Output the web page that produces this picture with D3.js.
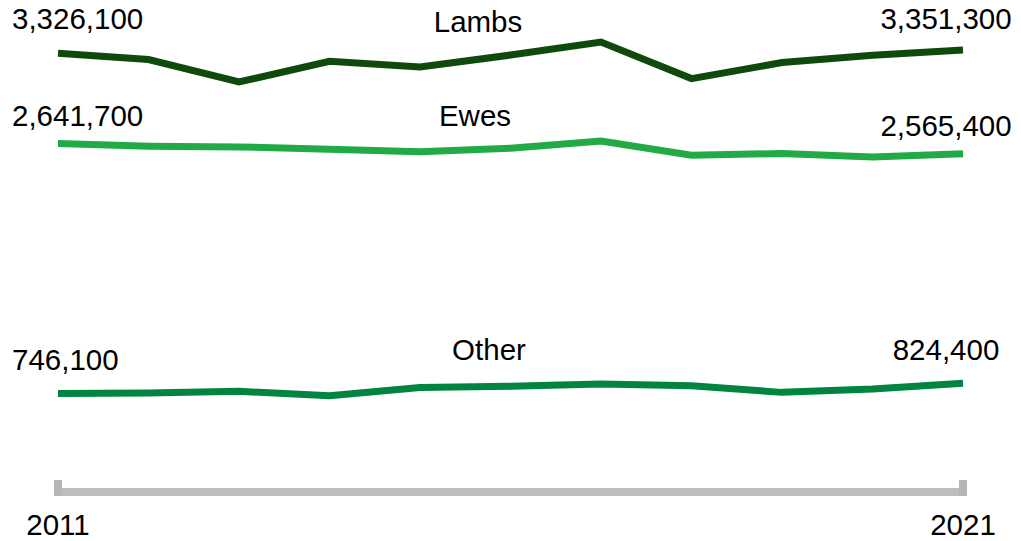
<!DOCTYPE html>
<html>
<head>
<meta charset="utf-8">
<script src="https://cdn.jsdelivr.net/npm/d3@7"></script>
<style>
  html, body { margin: 0; padding: 0; background: #ffffff; }
  svg { display: block; font-family: "Liberation Sans", Arial, sans-serif; }
</style>
</head>
<body>
<svg id="chart" width="1021" height="541"></svg>
<script>
// Sheep numbers by category, 2011–2021
const years = [2011, 2012, 2013, 2014, 2015, 2016, 2017, 2018, 2019, 2020, 2021];
const lambs = [3326100, 3278600, 3108800, 3265700, 3222500, 3313000, 3411900, 3134600, 3255800, 3311100, 3351300];
const ewes  = [2641700, 2621600, 2616300, 2598900, 2580000, 2606500, 2661800, 2553400, 2566300, 2540600, 2565400];
const other = [746100, 750100, 763000, 729700, 792000, 801000, 818000, 805400, 755400, 780400, 824400];
const seriesNames = ["Lambs", "Ewes", "Other"];
const seriesColors = ["#0f4a0c", "#22aa46", "#00843f"];

const series = [lambs, ewes, other].map((values, i) => ({
  name: seriesNames[i],
  color: seriesColors[i],
  values: values
}));

const svg = d3.select("#chart");
const fmt = d3.format(",");
const FONT = 29.5;

const x = d3.scaleLinear()
  .domain([years[0], years[years.length - 1]])
  .range([58, 963]);

const y = d3.scaleLinear()
  .domain([0, d3.max(series, s => d3.max(s.values))])
  .range([492, 42]);

// Baseline axis with end caps
const axisG = svg.append("g").attr("class", "x-axis");
axisG.append("line")
  .attr("x1", x.range()[0] - 4).attr("x2", x.range()[1] + 4)
  .attr("y1", y(0)).attr("y2", y(0))
  .attr("stroke", "#bdbdbd").attr("stroke-width", 8);
axisG.selectAll("rect.cap")
  .data([years[0], years[years.length - 1]])
  .join("rect")
  .attr("class", "cap")
  .attr("x", d => x(d) - 4)
  .attr("y", y(0) - 12)
  .attr("width", 8)
  .attr("height", 16)
  .attr("fill", "#b5b5b5");
axisG.selectAll("text.year")
  .data([years[0], years[years.length - 1]])
  .join("text")
  .attr("class", "year")
  .attr("x", d => x(d))
  .attr("y", 535)
  .attr("text-anchor", "middle")
  .attr("font-size", FONT)
  .attr("fill", "#000")
  .text(d => d);

// Lines
const line = d3.line()
  .x((d, i) => x(years[i]))
  .y(d => y(d));

svg.append("g").selectAll("path")
  .data(series)
  .join("path")
  .attr("d", d => line(d.values))
  .attr("fill", "none")
  .attr("stroke", d => d.color)
  .attr("stroke-width", 7)
  .attr("stroke-linejoin", "miter");

// Start / end value labels
const startOffset = { Lambs: 24, Ewes: 18, Other: 24 };
const endOffset = { Lambs: 21, Ewes: 18, Other: 23 };
const labels = svg.append("g").attr("font-size", FONT).attr("fill", "#000");

labels.selectAll("text.start")
  .data(series)
  .join("text")
  .attr("class", "start")
  .attr("x", 12)
  .attr("y", d => y(d.values[0]) - startOffset[d.name])
  .attr("text-anchor", "start")
  .text(d => fmt(d.values[0]));

labels.selectAll("text.end")
  .data(series)
  .join("text")
  .attr("class", "end")
  .attr("x", 946)
  .attr("y", d => y(d.values[d.values.length - 1]) - endOffset[d.name])
  .attr("text-anchor", "middle")
  .text(d => fmt(d.values[d.values.length - 1]));

// Series names above the mid-period segment
const nameX = { Lambs: 478, Ewes: 475, Other: 489 };
const nameOffset = { Lambs: 23, Ewes: 22, Other: 26 };
labels.selectAll("text.name")
  .data(series)
  .join("text")
  .attr("class", "name")
  .attr("x", d => nameX[d.name])
  .attr("y", d => y(d.values[5]) - nameOffset[d.name])
  .attr("text-anchor", "middle")
  .text(d => d.name);
</script>
</body>
</html>
